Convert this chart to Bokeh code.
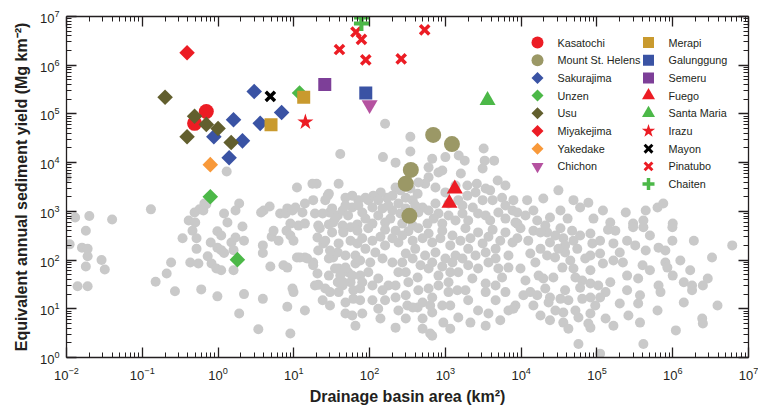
import numpy as np
from bokeh.plotting import figure
from bokeh.models import LogAxis, FixedTicker, Range1d, LinearScale, CustomJSTickFormatter
from bokeh.core.properties import value
from bokeh.embed import file_html
from bokeh.resources import INLINE

# ---------------- data ----------------
grey_area = [
    0.010, 0.013, 0.020, 0.040, 0.018, 0.011, 0.016, 0.019, 0.019, 0.018, 0.029, 0.032, 0.014, 0.019,
    0.13, 0.15, 0.21, 0.24, 0.27, 0.34, 0.41, 0.46, 0.49, 0.57, 0.66, 0.52, 0.52, 0.43, 0.55, 0.73,
    0.80, 0.82, 0.95, 0.60, 0.98, 1.9, 2.2, 3.9, 3.4, 4.9, 8.2, 9.0, 1.3, 0.98, 1.1, 0.98, 1.2, 1.1,
    1.5, 1.7, 2.2, 2.1, 1.6, 3.9, 3.9, 7.3, 5.1, 6.3, 5.4, 1.2, 1.9, 1.7, 0.70, 0.64, 0.50, 1.33,
    4.0, 4.8, 6.6, 8.2, 1.6, 1.1, 3.7, 8.0, 7.8, 9.6, 11, 14, 11.5, 11, 14, 9.9, 14, 18, 20.5, 19,
    28, 29.5, 33, 19, 18, 20.5, 24.5, 41, 39, 38, 45, 33, 39, 38, 30, 44, 48, 59, 80, 61, 56, 52,
    75, 65, 56, 69, 220, 315, 430, 630, 500,
    160, 345, 345, 150, 220, 670, 1000, 600, 910, 1500, 1800, 3200, 3300, 4400, 3100, 4900, 3400,
    2600, 1950, 1600, 810, 600, 740, 540, 440, 430, 370, 300, 220, 200, 170, 140, 112, 96, 88, 71,
    59, 48, 29, 26, 20, 17.6, 10.5, 13, 24, 32, 44, 59, 80, 109, 148, 200, 240, 500, 600, 810,
    1480, 1950, 2300, 3100, 4200, 5600, 7700, 5000, 3400, 2000, 1360, 910, 580, 370, 270, 160, 109,
    69, 44, 29, 21, 14, 9.0,
    22, 32, 45, 69, 96, 160, 220, 325, 440, 600, 910, 1240, 1840, 2700, 4200, 6200, 9.0, 9.9, 12,
    15, 18, 29, 38, 48, 65, 88, 119, 160, 240, 300, 400, 540, 740, 1000, 1360, 2000, 3100, 4600,
    6800, 8.2, 21, 26, 35, 45, 59, 75, 96, 130, 177, 240, 325, 430, 600, 810, 1100, 1480, 2000,
    2700, 3700, 5000, 6800, 9.6, 30, 39, 48, 61, 109, 160, 220, 300, 370, 500, 670, 910, 1440,
    1100, 600, 3400, 3400, 5600, 8400, 6800, 3700, 1480, 940, 670, 500, 670,
    31000, 7900, 12000, 19600, 49000, 77000, 1.2e5, 2.4e5, 4.4e5, 6.3e5, 7.5e5, 8900, 14500, 33000,
    60000, 24000, 16300, 41000, 90000, 1.5e5, 3.0e5, 4.1e5, 1.0e6, 8900,
    9800, 14500, 22000, 33000, 47000, 82000, 1.4e5, 3.0e5, 4.1e5, 9.9e5, 8900, 12400, 18000, 24000,
    36000, 49000, 87000, 1.65e5, 2.5e5, 4.4e5, 6.5e5, 9.9e5, 1.9e6, 6.1e6, 3.3e6, 13200, 22000,
    28000, 38000, 55000, 82000, 1.1e5, 1.2e5, 1.65e5, 2.2e5, 2.5e5, 4.0e5, 8.0e5, 8.5e5, 1.0e6,
    1.4e6, 1.8e6, 1.8e6, 2.5e6, 2.9e6, 6.5e5, 6.9e5, 3.5e5, 9800, 17000, 19600, 26600, 35000, 49000,
    52000, 64000, 60000, 82000, 1.04e5, 1.3e5, 1.1e5, 82000, 64000, 42000, 33000, 24000, 23000,
    16300, 13200, 10700, 14500, 7900, 2.5e5, 2.0e5, 3.5e5, 6.3e5, 1.4e6, 3.9e6, 2.45e6, 2.5e6,
    1.1e6, 3.7e5, 2.6e5, 1.65e5, 1.3e5, 82000, 57000, 77000, 82000, 36000, 36000, 42000, 24000,
    57000, 4.1e5, 1.1e5,
    26, 39, 56, 80, 109, 139, 200, 270, 370, 500, 670, 860, 1160, 1580, 2140, 3700, 5300, 7700,
    21, 30, 48, 75, 102, 148, 200, 270, 370, 470, 670, 910, 1240, 1680, 2500, 3400, 4600,
    29, 41, 80, 109, 148, 220, 300, 440, 810, 1160, 1840, 2270, 4600, 6200,
    24, 75, 130, 240, 630, 1160, 2000, 2700, 4600, 139, 300, 1160, 2140, 3400, 5300, 65,
    35, 52, 88, 130, 188, 255, 345, 440, 700, 1100, 1680, 2700, 3900, 6200, 8400,
    48, 71, 130, 177, 300, 400, 740, 1100, 1680, 6200, 255, 345, 1000, 1360, 2500, 3900, 6200,
    11400, 20800, 28300, 18000, 38000, 60000, 70000, 44500, 31000, 15400, 11400, 20800, 38000,
    82000, 1.1e5, 1.75e5, 2.0e5, 3.2e5, 5.0e5, 95000, 52000, 28300, 18000, 1.5e5, 3.7e5, 5.0e5,
    8.0e5, 1.26e6, 1.7e6,
]
grey_yield = [
    5000, 750, 800, 680, 400, 210, 180, 170, 120, 74, 100, 64, 29, 29,
    1100, 36, 53, 89, 23, 280, 650, 400, 950, 1100, 1450, 280, 170, 89, 85, 120,
    230, 85, 67, 25, 18, 8.0, 20, 16, 3.8, 74, 11, 3.1, 6600, 390, 320, 180, 140, 62,
    230, 290, 250, 490, 62, 200, 140, 78, 300, 250, 400, 900, 1450, 1040, 1400, 1040, 590, 590,
    1040, 1260, 900, 1150, 160, 160, 950, 400, 900, 1040, 3100, 1450, 510, 113, 113, 22, 9.2, 89, 53, 30,
    2100, 950, 590, 900, 1700, 290, 220, 15000, 3700, 820, 400, 113, 67, 35, 22, 30, 8.0, 7.3, 8.0, 24, 35, 56,
    48, 85, 470, 220, 4.1, 11.7, 10.6, 3.1, 6.3,
    63000, 34000, 17000, 13000, 10000, 12000, 13000, 8000, 6900, 14000, 11000, 19500, 11000, 11000, 7600, 4300, 2950,
    3700, 3400, 6000, 6300, 5000, 3100, 3700, 3900, 2300, 1700, 1900, 3100, 2100, 1900, 2450, 2100, 1700, 1900, 1700,
    2100, 1900, 2300, 1700, 3700, 3700, 1200, 950, 900, 1150, 1040, 1200, 950, 1200, 1150, 1040, 1450, 1200, 1040, 900,
    1700, 2100, 1200, 1700, 1700, 1900, 1040, 950, 820, 650, 650, 560, 560, 510, 560, 590, 560,
    540, 510, 540, 510, 560, 560,
    450, 370, 370, 400, 450, 420, 400, 390, 450, 350, 400, 320, 450, 370, 420, 370, 320, 250, 113,
    108, 78, 108, 143, 70, 124, 170, 143, 200, 230, 137, 170, 124, 143, 108, 124, 170, 220, 170,
    124, 70, 31, 26, 67, 35, 48, 26, 56, 42, 30, 56, 35, 44, 67, 48, 35, 56, 78,
    67, 89, 67, 70, 26, 11.7, 22, 13.5, 16, 15, 15, 17, 19, 10.6, 13.5, 17, 11.7, 24,
    22, 26, 33, 22, 44, 11.7, 9.2, 8.0, 6.6, 5.2, 8.4, 3.9, 2.8,
    2700, 1700, 1700, 1840, 1700, 1500, 1040, 950, 1040, 1200, 1450, 950, 1040, 1040,
    1200, 750, 650, 710, 710, 590, 560, 650, 560, 560,
    450, 400, 370, 450, 400, 350, 420, 470, 470, 470, 280, 250, 170, 230,
    280, 250, 220, 220, 250, 157, 180, 250, 250, 200, 113, 137, 124,
    113, 143, 170, 124, 137, 85, 98, 89, 48, 78, 89, 70, 48,
    35, 30, 24, 30, 42, 30, 22, 42, 67, 48, 42, 44, 70, 67,
    44, 38, 27, 33, 30, 22, 17, 17, 16, 15, 16, 17, 13.5,
    19, 22, 19, 11.7, 10, 24, 12.8, 12.8, 9.2, 13.5, 11.7, 6.3, 5.0,
    3.6, 5.2, 7.3, 4.5, 6.3, 8.0, 6.6, 5.0, 4.1, 8.4, 5.2, 3.9, 5.8,
    1.9, 1.9, 1.2,
    250, 220, 250, 280, 250, 300, 280, 320, 250, 280, 230, 280, 200, 250, 280, 300, 250, 230,
    157, 157, 124, 98, 89, 108, 89, 89, 108, 78, 89, 74, 89, 108, 124, 143, 108,
    48, 48, 35, 30, 24, 30, 56, 24, 30, 56, 24, 42, 30, 22,
    15, 15, 10, 9.2, 11.7, 11.7, 15, 9.2, 15, 6.3, 6.3, 3.9, 5.2, 4.5, 5.8, 4.5,
    710, 820, 710, 820, 710, 900, 820, 950, 710, 820, 900, 900, 650, 710, 590,
    1320, 1320, 1700, 1320, 1150, 1320, 1450, 1450, 1320, 1320, 2700, 2950, 2450, 3400, 2450, 2700, 3400,
    820, 510, 320, 370, 200, 320, 108, 98, 170, 89, 38, 26, 24,
    62, 250, 400, 143, 200, 320, 11.7, 9.2, 9.2, 7.3, 35, 19, 62,
    157, 98, 62,
]

kasatochi_area = [0.70, 0.49]
kasatochi_yield = [1.12e5, 6.4e4]
st_helens_area = [690, 1220, 350, 300, 335]
st_helens_yield = [3.7e4, 2.4e4, 7.1e3, 3.7e3, 810]
sakurajima_area = [3.0, 6.9, 1.6, 3.6, 0.88, 2.1, 1.4]
sakurajima_yield = [2.9e5, 1.07e5, 7.6e4, 6.4e4, 3.4e4, 2.8e4, 1.26e4]
unzen_area = [0.79, 1.8, 11.9]
unzen_yield = [2.0e3, 102, 2.7e5]
usu_area = [0.20, 0.49, 0.70, 1.0, 0.39, 1.49]
usu_yield = [2.2e5, 9.0e4, 6.1e4, 5.0e4, 3.4e4, 2.6e4]
miyakejima_area = [0.39]
miyakejima_yield = [1.8e6]
yakedake_area = [0.79]
yakedake_yield = [9.1e3]
chichon_area = [100]
chichon_yield = [1.54e5]
merapi_area = [5.0, 13.5]
merapi_yield = [6.0e4, 2.2e5]
galunggung_area = [89]
galunggung_yield = [2.7e5]
semeru_area = [25.6]
semeru_yield = [4.0e5]
fuego_area = [1330, 1130]
fuego_yield = [2.9e3, 1.47e3]
santa_maria_area = [3600]
santa_maria_yield = [1.9e5]
irazu_area = [14.2]
irazu_yield = [6.8e4]
mayon_area = [4.9]
mayon_yield = [2.3e5]
pinatubo_area = [66, 78, 40, 89, 261, 533]
pinatubo_yield = [4.8e6, 3.4e6, 2.1e6, 1.29e6, 1.35e6, 5.3e6]
chaiten_area = [78, 78]
chaiten_yield = [9.5e6, 7.2e6]

x_major_ticks = [1e-2, 1e-1, 1e0, 1e1, 1e2, 1e3, 1e4, 1e5, 1e6, 1e7]
y_major_ticks = [1e0, 1e1, 1e2, 1e3, 1e4, 1e5, 1e6, 1e7]

# ---------------- styling ----------------
RED = "#ec1c24"
GREEN = "#4cb848"
BLUE = "#3a53a4"
GREY = "#c9c9c9"
INK = "#231f20"
FONT = "Liberation Sans"
DIAMOND = np.pi / 4

# name, x, y, marker, colour, size, legend size, angle, line width (line markers), legend column
series = [
    ("Kasatochi", kasatochi_area, kasatochi_yield, "circle", RED, 15, 12, 0, 0, 0),
    ("Mount St. Helens", st_helens_area, st_helens_yield, "circle", "#9b9866", 16, 12, 0, 0, 0),
    ("Sakurajima", sakurajima_area, sakurajima_yield, "square", BLUE, 11, 8.5, DIAMOND, 0, 0),
    ("Unzen", unzen_area, unzen_yield, "square", GREEN, 11, 8.5, DIAMOND, 0, 0),
    ("Usu", usu_area, usu_yield, "square", "#625f2e", 11, 8.5, DIAMOND, 0, 0),
    ("Miyakejima", miyakejima_area, miyakejima_yield, "square", RED, 11, 8.5, DIAMOND, 0, 0),
    ("Yakedake", yakedake_area, yakedake_yield, "square", "#f8993a", 11, 8.5, DIAMOND, 0, 0),
    ("Chichon", chichon_area, chichon_yield, "inverted_triangle", "#b552a0", 16, 12, 0, 0, 0),
    ("Merapi", merapi_area, merapi_yield, "square", "#c99a2e", 13, 11, 0, 0, 1),
    ("Galunggung", galunggung_area, galunggung_yield, "square", BLUE, 13, 11, 0, 0, 1),
    ("Semeru", semeru_area, semeru_yield, "square", "#7d3f98", 13, 11, 0, 0, 1),
    ("Fuego", fuego_area, fuego_yield, "triangle", RED, 16, 13, 0, 0, 1),
    ("Santa Maria", santa_maria_area, santa_maria_yield, "triangle", GREEN, 16, 13, 0, 0, 1),
    ("Irazu", irazu_area, irazu_yield, "star", RED, 17, 14, 0, 0, 1),
    ("Mayon", mayon_area, mayon_yield, "x", "black", 13, 11, 0, 3.5, 1),
    ("Pinatubo", pinatubo_area, pinatubo_yield, "x", RED, 13, 11, 0, 3.5, 1),
    ("Chaiten", chaiten_area, chaiten_yield, "cross", GREEN, 15, 12, 0, 4, 1),
]

FRAME_W, FRAME_H = 682, 341
p = figure(width=758, height=414, x_axis_type="log", y_axis_type="log",
           x_range=Range1d(1e-2, 1e7), y_range=Range1d(1, 1e7),
           output_backend="svg", toolbar_location=None,
           min_border_left=66, min_border_right=10, min_border_top=16, min_border_bottom=57)
p.grid.visible = False
p.outline_line_color = None
p.background_fill_color = "white"
p.border_fill_color = "white"


def minor_for(major):
    out = []
    for m in major[:-1]:
        out += [m * k for k in range(2, 10)]
    return out


def style_axis(ax, major, show_labels):
    ax.ticker = FixedTicker(ticks=major, minor_ticks=minor_for(major))
    ax.major_tick_in = 10
    ax.major_tick_out = 0
    ax.minor_tick_in = 5
    ax.minor_tick_out = 0
    ax.axis_line_width = 1.3
    ax.axis_line_color = INK
    ax.major_tick_line_color = INK
    ax.minor_tick_line_color = INK
    ax.major_tick_line_width = 1.3
    ax.minor_tick_line_width = 1
    if show_labels:
        ax.major_label_text_font = FONT
        ax.major_label_text_font_size = "13px"
        ax.major_label_text_color = INK
        ax.axis_label_text_font = FONT
        ax.axis_label_text_font_style = "bold"
        ax.axis_label_text_font_size = "16px"
        ax.axis_label_text_color = INK
    else:
        ax.formatter = CustomJSTickFormatter(code="return ''")
        ax.major_label_text_font_size = "1px"
        ax.major_label_standoff = 0


style_axis(p.xaxis[0], x_major_ticks, True)
style_axis(p.yaxis[0], y_major_ticks, True)
p.xaxis[0].axis_label = "Drainage basin area (km²)"
p.yaxis[0].axis_label = "Equivalent annual sediment yield (Mg km⁻²)"
p.xaxis[0].major_label_standoff = 9
p.yaxis[0].major_label_standoff = 7
p.xaxis[0].axis_label_standoff = 5
p.yaxis[0].axis_label_standoff = 7

top_axis = LogAxis()
right_axis = LogAxis()
style_axis(top_axis, x_major_ticks, False)
style_axis(right_axis, y_major_ticks, False)
p.add_layout(top_axis, "above")
p.add_layout(right_axis, "right")

# background cloud
p.scatter(grey_area, grey_yield, size=10, marker="circle", fill_color=GREY, line_color=None)


def draw(x, y, marker, colour, size, angle, lw, **kw):
    if marker in ("x", "cross"):
        return p.scatter(x, y, marker=marker, size=size, line_color=colour, line_width=lw, **kw)
    return p.scatter(x, y, marker=marker, size=size, angle=angle,
                     fill_color=colour, line_color=None, **kw)


for name, xs, ys, marker, colour, size, lsize, angle, lw, col in series:
    draw(xs, ys, marker, colour, size, angle, lw)

# legend (two columns, positioned in frame pixels)
p.extra_x_ranges = {"leg": Range1d(0, FRAME_W)}
p.extra_y_ranges = {"leg": Range1d(0, FRAME_H)}
p.extra_x_scales = {"leg": LinearScale()}
p.extra_y_scales = {"leg": LinearScale()}
LEG_COL_X = [471, 582]
LEG_TOP = 315
LEG_DY = 17.7
LEG_TXT_DX = 20
rows = [0, 0]
for name, xs, ys, marker, colour, size, lsize, angle, lw, col in series:
    gx = LEG_COL_X[col]
    gy = LEG_TOP - rows[col] * LEG_DY
    rows[col] += 1
    draw([gx], [gy], marker, colour, lsize, angle, max(lw - 0.5, 0),
         x_range_name="leg", y_range_name="leg")
    p.text(x=[gx + LEG_TXT_DX], y=[gy], text=[name], x_range_name="leg", y_range_name="leg",
           text_font=value(FONT), text_font_size="10.8px", text_color=INK,
           text_baseline="middle", text_align="left")

open("out.html", "w").write(file_html(p, INLINE))
